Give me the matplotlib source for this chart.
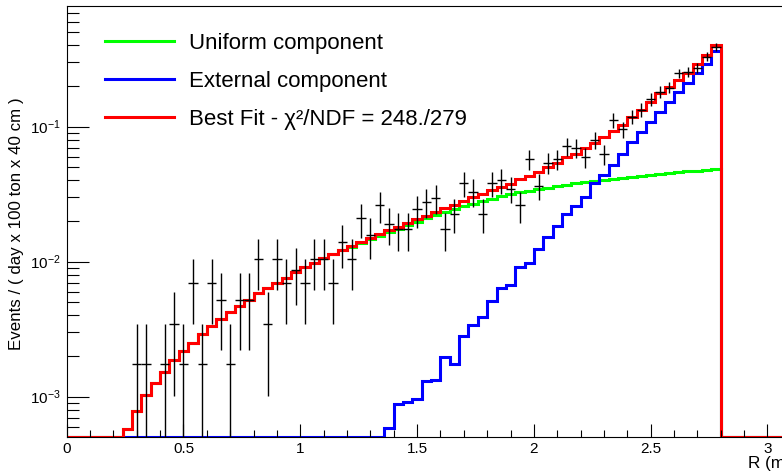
import numpy as np
import matplotlib
matplotlib.use('Agg')
import matplotlib.pyplot as plt
from matplotlib.lines import Line2D

plt.rcParams['font.family'] = ['Liberation Sans', 'DejaVu Sans']
plt.rcParams['mathtext.fontset'] = 'custom'
plt.rcParams['mathtext.rm'] = 'Liberation Sans'
plt.rcParams['mathtext.it'] = 'Liberation Sans:italic'
plt.rcParams['mathtext.bf'] = 'Liberation Sans:bold'

# binning: 0.04 m bins from 0 to 3.2 m
n_bins = 80
r_max = 3.2

# observed counts per bin (bins 0..69, rest empty)
counts = [0, 0, 0, 0, 0, 0, 0, 1, 1, 0,
          1, 2, 1, 4, 1, 4, 3, 1, 3, 3,
          6, 2, 6, 4, 5, 4, 6, 6, 4, 8,
          6, 12, 9, 15, 11, 10, 10, 14, 16, 17,
          10, 13, 22, 19, 13, 22, 23, 20, 15, 33,
          21, 31, 33, 41, 40, 34, 46, 36, 64, 55,
          68, 77, 92, 104, 112, 143, 147, 157, 190, 225]
count_scale = 1.74e-3   # events / (day x 100 ton x 40 cm) per count

# uniform component (green)
uniform = [0, 0, 0, 0, 0, 0, 5.73e-4, 7.83e-4, 1.03e-3, 1.27e-3,
           1.53e-3, 1.87e-3, 2.17e-3, 2.51e-3, 2.91e-3, 3.34e-3, 3.74e-3, 4.27e-3, 4.70e-3, 5.20e-3,
           5.89e-3, 6.41e-3, 6.98e-3, 7.60e-3, 8.43e-3, 9.14e-3, 9.73e-3, 0.0106, 0.0114, 0.0122,
           0.0129, 0.0137, 0.0147, 0.0156, 0.0166, 0.0176, 0.0187, 0.0198, 0.0209, 0.0221,
           0.0233, 0.0245, 0.0257, 0.0269, 0.0281, 0.0293, 0.0305, 0.0316, 0.0326, 0.0335,
           0.0344, 0.0353, 0.0362, 0.0372, 0.0380, 0.0388, 0.0396, 0.0404, 0.0411, 0.0419,
           0.0426, 0.0433, 0.0440, 0.0447, 0.0454, 0.0460, 0.0467, 0.0473, 0.0480, 0.0485]

# external component (blue)
external = [0] * 34 + [
    5.89e-4, 8.79e-4, 9.08e-4, 9.66e-4, 1.31e-3, 1.32e-3,
    1.95e-3, 1.75e-3, 2.83e-3, 3.40e-3, 3.87e-3, 5.12e-3, 6.35e-3, 6.71e-3, 9.10e-3, 9.73e-3,
    0.0124, 0.0153, 0.0184, 0.0225, 0.0259, 0.0303, 0.0381, 0.0437, 0.0520, 0.0625,
    0.0764, 0.0918, 0.1089, 0.1291, 0.1531, 0.1816, 0.2118, 0.2489, 0.2911, 0.3656]

# best fit total (red)
best_fit = [0, 0, 0, 0, 0, 0, 5.73e-4, 7.83e-4, 1.03e-3, 1.27e-3,
            1.53e-3, 1.87e-3, 2.17e-3, 2.51e-3, 2.91e-3, 3.34e-3, 3.74e-3, 4.27e-3, 4.70e-3, 5.20e-3,
            5.89e-3, 6.41e-3, 6.98e-3, 7.60e-3, 8.43e-3, 9.14e-3, 9.73e-3, 0.0106, 0.0114, 0.0122,
            0.0131, 0.0140, 0.0150, 0.0161, 0.0172, 0.0182, 0.0192, 0.0206, 0.0219, 0.0233,
            0.0248, 0.0263, 0.0283, 0.0300, 0.0317, 0.0340, 0.0360, 0.0377, 0.0407, 0.0430,
            0.0461, 0.0506, 0.0541, 0.0593, 0.0628, 0.0692, 0.0753, 0.0843, 0.0933, 0.1030,
            0.1175, 0.1330, 0.1517, 0.1766, 0.1977, 0.2218, 0.2489, 0.2911, 0.3396, 0.4027]

ymin, ymax = 5.05e-4, 0.783


def pad(vals):
    v = np.zeros(n_bins)
    v[:len(vals)] = vals
    return v


edges = np.linspace(0, r_max, n_bins + 1)
centers = 0.5 * (edges[:-1] + edges[1:])
half_w = 0.5 * (edges[1] - edges[0])

fig = plt.figure(figsize=(7.82, 4.76), dpi=100)
ax = fig.add_axes([66.7 / 782, 39.3 / 476, 3.1 * 233.6 / 782, 430.7 / 476])
ax.set_yscale('log')

lw = 2.2
for vals, col in [(uniform, '#00ff00'), (external, '#0000ff'), (best_fit, '#ff0000')]:
    v = pad(vals)
    v = np.where(v > 0, v, ymin)   # empty bins sit on the frame floor
    ax.stairs(v, edges, color=col, linewidth=lw, baseline=None)

c = pad(counts)
m = c > 0
y = c[m] * count_scale
err = np.sqrt(c[m]) * count_scale
ax.errorbar(centers[m], y, xerr=half_w, yerr=err, fmt='none', ecolor='black',
            elinewidth=1.0, capsize=0, zorder=5)

ax.set_xlim(0, 3.1)
ax.set_ylim(ymin, ymax)
ax.set_xticks([0, 0.5, 1, 1.5, 2, 2.5, 3])
ax.set_xticklabels(['0', '0.5', '1', '1.5', '2', '2.5', '3'])
ax.set_xticks(np.arange(0, 3.1, 0.1), minor=True)
ax.tick_params(axis='x', which='major', direction='in', length=9.4, width=0.8, labelsize=11, pad=3.5)
ax.tick_params(axis='x', which='minor', direction='in', length=5, width=0.8)
ax.tick_params(axis='y', which='major', direction='in', length=15.8, width=0.8, labelsize=11, pad=4)
ax.tick_params(axis='y', which='minor', direction='in', length=8.4, width=0.8)
for s in ax.spines.values():
    s.set_linewidth(0.8)

fig.text(17 / 782, 1 - 97 / 476, 'Events / ( day x 100 ton x 40 cm )', rotation=90,
         ha='center', va='top', fontsize=12.2)
ax.set_xlabel('R (m)', fontsize=12.3, loc='right', labelpad=0)

handles = [Line2D([], [], color='#00ff00', lw=lw),
           Line2D([], [], color='#0000ff', lw=lw),
           Line2D([], [], color='#ff0000', lw=lw)]
labels = ['Uniform component', 'External component', 'Best Fit - χ²/NDF = 248./279']
ax.legend(handles, labels, loc='upper left', bbox_to_anchor=(105 / 782, 1 - 33 / 476),
          bbox_transform=fig.transFigure, frameon=False, fontsize=16,
          handlelength=3.1, handletextpad=0.7, labelspacing=0.76, borderpad=0, borderaxespad=0)

fig.savefig('out.png', dpi=100)
